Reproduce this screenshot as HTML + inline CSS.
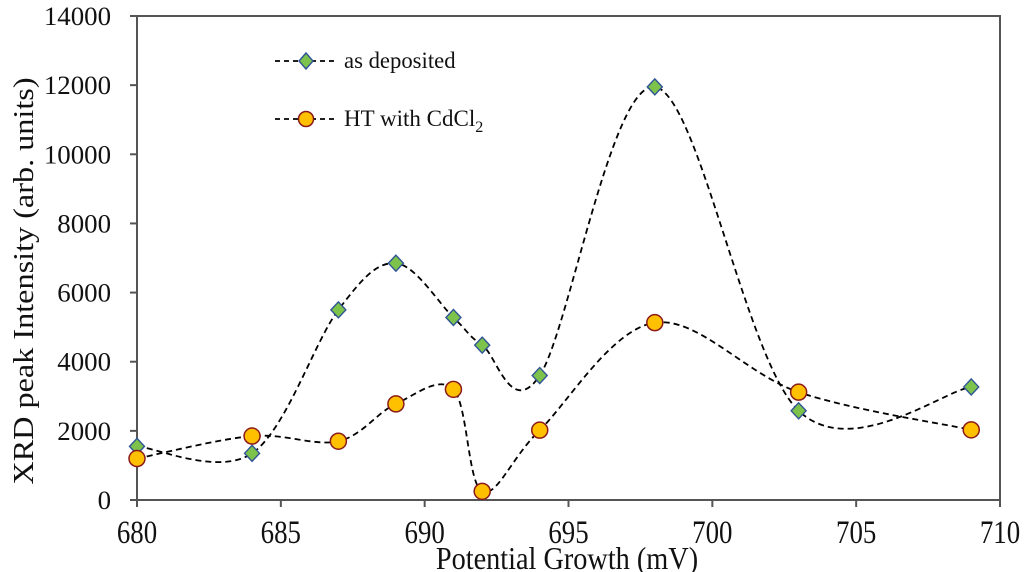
<!DOCTYPE html>
<html><head><meta charset="utf-8"><style>
html,body{margin:0;padding:0;background:#fff;}
svg, svg text{font-family:"Liberation Serif",serif;}
svg{display:block;}
</style></head><body>
<svg id="chart" width="1024" height="572" viewBox="0 0 1024 572">
<rect x="137" y="16" width="863" height="484" fill="none" stroke="#555" stroke-width="2"/>
<g id="ticks"></g>
<g id="series"></g>
<text x="0" y="0" transform="translate(33 281) rotate(-90) scale(1.17)" text-anchor="middle" font-size="24" textLength="348" lengthAdjust="spacingAndGlyphs" fill="#111">XRD peak Intensity (arb. units)</text>
<text x="0" y="0" transform="translate(567 569) scale(1.15 1.3)" text-anchor="middle" font-size="24" textLength="228" lengthAdjust="spacingAndGlyphs" fill="#111">Potential Growth (mV)</text>
<g>
<g>
<line x1="275" y1="61" x2="338" y2="61" stroke="#000" stroke-width="1.8" stroke-dasharray="5,4"/>
<polygon points="306,53 313,61 306,69 299,61" fill="#7dc24a" stroke="#2f5597" stroke-width="1.4"/>
<text x="0" y="0" transform="translate(344 68) scale(1.15)" font-size="20" textLength="97" lengthAdjust="spacingAndGlyphs" fill="#111">as deposited</text>
</g>
<g>
<line x1="275" y1="119" x2="338" y2="119" stroke="#000" stroke-width="1.8" stroke-dasharray="5,4"/>
<circle cx="306" cy="119" r="7.5" fill="#ffc000" stroke="#8b1a1a" stroke-width="1.5"/>
<text x="0" y="0" transform="translate(344 126) scale(1.15)" font-size="20" fill="#111">HT with CdCl<tspan font-size="14" dy="5">2</tspan></text>
</g>
</g>
</svg>
<script>
const xValues = [680, 684, 687, 689, 691, 692, 694, 698, 703, 709];
const asDeposited = [1550, 1350, 5500, 6850, 5280, 4480, 3600, 11950, 2580, 3270];
const htCdCl2 = [1200, 1850, 1700, 2780, 3200, 250, 2020, 5130, 3120, 2030];
const xTicks = [680, 685, 690, 695, 700, 705, 710];
const yTicks = [0, 2000, 4000, 6000, 8000, 10000, 12000, 14000];

const L=137,R=1000,T=16,B=500;
const sx=v=>L+(v-680)/(710-680)*(R-L);
const sy=v=>B-v/14000*(B-T);
const NS='http://www.w3.org/2000/svg';
function mk(tag,attrs,parent){const e=document.createElementNS(NS,tag);for(const k in attrs)e.setAttribute(k,attrs[k]);parent.appendChild(e);return e;}
const ticks=document.getElementById('ticks');
xTicks.forEach(v=>{
  const x=sx(v);
  const l=mk('line',{x1:x,y1:B,x2:x,y2:B+7,stroke:'#555','stroke-width':2},ticks);
  
  
  const t=mk('text',{x:0,y:0,transform:`translate(${x} 543) scale(1.12 1.35)`,'text-anchor':'middle','font-size':24,fill:'#111'},ticks);
  t.textContent=v;
  
  
});
yTicks.forEach(v=>{
  const y=sy(v);
  const l=mk('line',{x1:L-7,y1:y,x2:L,y2:y,stroke:'#555','stroke-width':2},ticks);
  
  
  const t=mk('text',{x:0,y:0,transform:`translate(111 ${y+9}) scale(1.12)`,'text-anchor':'end','font-size':24,fill:'#111'},ticks);
  t.textContent=v;
  
  
});
function smooth(xs,ys){
  const p=xs.map((x,i)=>[sx(x),sy(ys[i])]);
  let d='M'+p[0][0]+','+p[0][1];
  for(let i=0;i<p.length-1;i++){
    const p0=p[Math.max(0,i-1)],p1=p[i],p2=p[i+1],p3=p[Math.min(p.length-1,i+2)];
    const c1=[p1[0]+(p2[0]-p0[0])/6,p1[1]+(p2[1]-p0[1])/6];
    const c2=[p2[0]-(p3[0]-p1[0])/6,p2[1]-(p3[1]-p1[1])/6];
    d+=' C'+c1.join(',')+' '+c2.join(',')+' '+p2.join(',');
  }
  return d;
}
const g=document.getElementById('series');
const l1=mk('path',{d:smooth(xValues,asDeposited),fill:'none',stroke:'#000','stroke-width':1.8,'stroke-dasharray':'6,4'},g);


const l2=mk('path',{d:smooth(xValues,htCdCl2),fill:'none',stroke:'#000','stroke-width':1.8,'stroke-dasharray':'6,4'},g);


xValues.forEach((x,i)=>{
  const cx=sx(x),cy=sy(asDeposited[i]);
  const m=mk('polygon',{points:`${cx},${cy-8} ${cx+7.5},${cy} ${cx},${cy+8} ${cx-7.5},${cy}`,fill:'#7dc24a',stroke:'#2f5597','stroke-width':1.4},g);
  
  
});
xValues.forEach((x,i)=>{
  const c=mk('circle',{cx:sx(x),cy:sy(htCdCl2[i]),r:8,fill:'#ffc000',stroke:'#8b1a1a','stroke-width':1.5},g);
  
  
});
</script>
</body></html>
